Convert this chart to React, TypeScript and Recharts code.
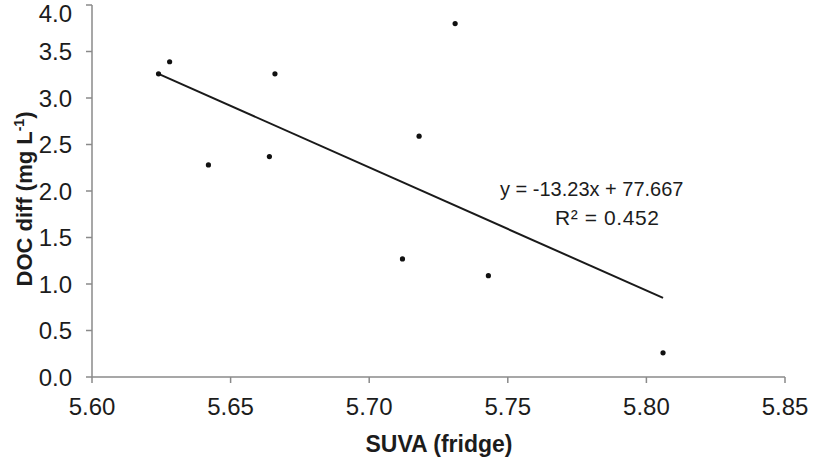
import React from "react";
import {
  ScatterChart,
  Scatter,
  XAxis,
  YAxis,
  Customized,
} from "recharts";

// SUVA (fridge) vs DOC diff
const suva = [5.624, 5.628, 5.642, 5.664, 5.666, 5.718, 5.731, 5.712, 5.743, 5.806];
const docDiff = [3.26, 3.39, 2.28, 2.37, 3.26, 2.59, 3.8, 1.27, 1.09, 0.26];

// linear trendline endpoints (from min to max SUVA)
const trendX = [5.624, 5.806];
const trendY = [3.26, 0.85];

const xTicks = [5.6, 5.65, 5.7, 5.75, 5.8, 5.85];
const yTicks = [0, 0.5, 1, 1.5, 2, 2.5, 3, 3.5, 4];

const equationText = "y = -13.23x + 77.667";

const points = suva.map((x, i) => ({ x, y: docDiff[i] }));
const trend = trendX.map((x, i) => ({ x, y: trendY[i] }));

const FONT = '"Liberation Sans", Arial, Helvetica, sans-serif';
const AXIS_GREY = "#8a8a8a";
const TEXT = "#1c1c1c";

const Dot = (props: any) => {
  const { cx, cy } = props;
  if (cx == null || cy == null) return null;
  return <circle cx={cx} cy={cy} r={2.6} fill="#111" />;
};

const NoShape = () => null;

// titles and the trendline equation
const Annotations = () => (
  <g fontFamily={FONT} fill={TEXT}>
    <text x={500} y={196} fontSize={20}>
      {equationText}
    </text>
    <text x={555} y={225} fontSize={21} letterSpacing={0.6}>
      R² = 0.452
    </text>
    <text x={439} y={452} fontSize={23} fontWeight="bold" textAnchor="middle">
      SUVA (fridge)
    </text>
    <text
      transform="translate(32, 199) rotate(-90)"
      fontSize={22}
      fontWeight="bold"
      textAnchor="middle"
    >
      DOC diff (mg L
      <tspan dy={-8} fontSize={14}>
        -1
      </tspan>
      <tspan dy={8}>)</tspan>
    </text>
  </g>
);

export default function App() {
  return (
    <div
      style={{
        position: "absolute",
        left: 0,
        top: 0,
        width: 836,
        height: 465,
        background: "#fff",
      }}
    >
      <ScatterChart
        width={836}
        height={465}
        margin={{ top: 5, right: 51, bottom: 0, left: 0 }}
      >
        <XAxis
          type="number"
          dataKey="x"
          domain={[5.6, 5.85]}
          ticks={xTicks}
          tickFormatter={(v: number) => v.toFixed(2)}
          allowDataOverflow
          height={88}
          stroke={AXIS_GREY}
          strokeWidth={1.5}
          tickSize={6}
          tickMargin={15}
          tick={{ fill: TEXT, fontSize: 24, fontFamily: FONT }}
        />
        <YAxis
          type="number"
          dataKey="y"
          domain={[0, 4]}
          ticks={yTicks}
          tickFormatter={(v: number) => v.toFixed(1)}
          allowDataOverflow
          width={92}
          stroke={AXIS_GREY}
          strokeWidth={1.5}
          tickSize={6}
          tickMargin={14}
          tick={{ fill: TEXT, fontSize: 24, fontFamily: FONT }}
        />
        <Scatter
          data={trend}
          line={{ stroke: "#1a1a1a", strokeWidth: 2 }}
          shape={NoShape}
          isAnimationActive={false}
        />
        <Scatter data={points} shape={Dot} isAnimationActive={false} />
        <Customized component={Annotations} />
      </ScatterChart>
    </div>
  );
}
